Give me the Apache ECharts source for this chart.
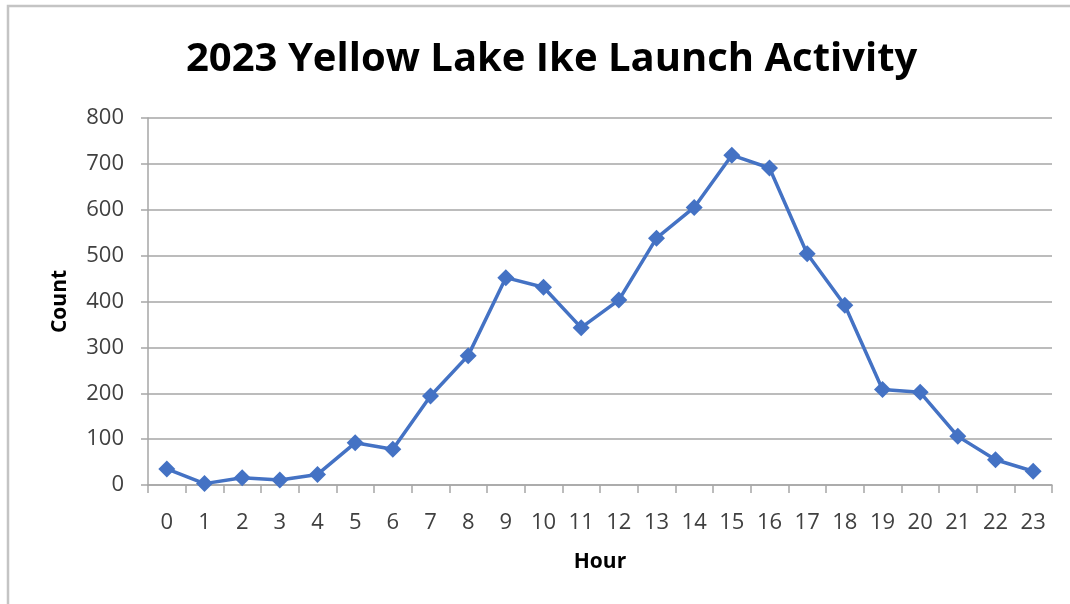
<!DOCTYPE html>
<html>
<head>
<meta charset="utf-8">
<script src="https://cdn.jsdelivr.net/npm/echarts@6/dist/echarts.min.js"></script>
<style>
  html, body { margin: 0; padding: 0; background: #fff; }
  #chart { width: 1070px; height: 604px; }
</style>
</head>
<body>
<div id="chart"></div>
<script>
// hours 0..23 and launch counts
const hours = ['0', '1', '2', '3', '4', '5', '6', '7', '8', '9', '10', '11',
  '12', '13', '14', '15', '16', '17', '18', '19', '20', '21', '22', '23'];
const counts = [35, 3, 16, 11, 23, 92, 78, 194, 282, 452, 431, 343,
  403, 538, 605, 719, 691, 504, 392, 208, 202, 106, 55, 30];
const yTicks = [0, 100, 200, 300, 400, 500, 600, 700, 800];

const font = '"Open Sans", "Noto Sans", sans-serif';
const chart = echarts.init(document.getElementById('chart'));

const option = {
  animation: false,
  title: {
    text: '2023 Yellow Lake Ike Launch Activity',
    left: 181,
    top: 35,
    textStyle: {
      fontFamily: font,
      fontWeight: 'bold',
      fontSize: 40,
      color: '#000'
    }
  },
  grid: {
    left: 148,
    right: 18,
    top: 118,
    bottom: 119
  },
  xAxis: {
    type: 'category',
    data: hours,
    boundaryGap: true,
    name: 'Hour',
    nameLocation: 'middle',
    nameGap: 67,
    nameTextStyle: {
      fontFamily: font,
      fontWeight: 'bold',
      fontSize: 21,
      color: '#000'
    },
    axisLine: { lineStyle: { color: '#a6a6a6', width: 1.5 } },
    axisTick: { show: true, length: 8, lineStyle: { color: '#a6a6a6', width: 1.5 } },
    axisLabel: {
      margin: 27,
      fontFamily: font,
      fontSize: 22,
      color: '#404040'
    }
  },
  yAxis: {
    type: 'value',
    min: yTicks[0],
    max: yTicks[yTicks.length - 1],
    interval: 100,
    name: 'Count',
    nameLocation: 'middle',
    nameGap: 77,
    nameRotate: 90,
    nameTextStyle: {
      fontFamily: font,
      fontWeight: 'bold',
      fontSize: 21,
      color: '#000'
    },
    axisLine: { show: true, lineStyle: { color: '#a6a6a6', width: 1.5 } },
    axisTick: { show: true, length: 7, lineStyle: { color: '#a6a6a6', width: 1.5 } },
    axisLabel: {
      margin: 24,
      fontFamily: font,
      fontSize: 22,
      color: '#404040'
    },
    splitLine: { lineStyle: { color: '#a6a6a6', width: 1.5 } }
  },
  series: [
    {
      type: 'line',
      data: counts,
      symbol: 'diamond',
      symbolSize: 17,
      lineStyle: { color: '#4472C4', width: 3.5 },
      itemStyle: { color: '#4472C4' }
    }
  ],
  graphic: [
    {
      type: 'polyline',
      shape: { points: [[8, 604], [8, 6], [1070, 6]] },
      style: { fill: null, stroke: '#c4c4c4', lineWidth: 2.5 },
      silent: true
    }
  ]
};

chart.setOption(option);
</script>
</body>
</html>
